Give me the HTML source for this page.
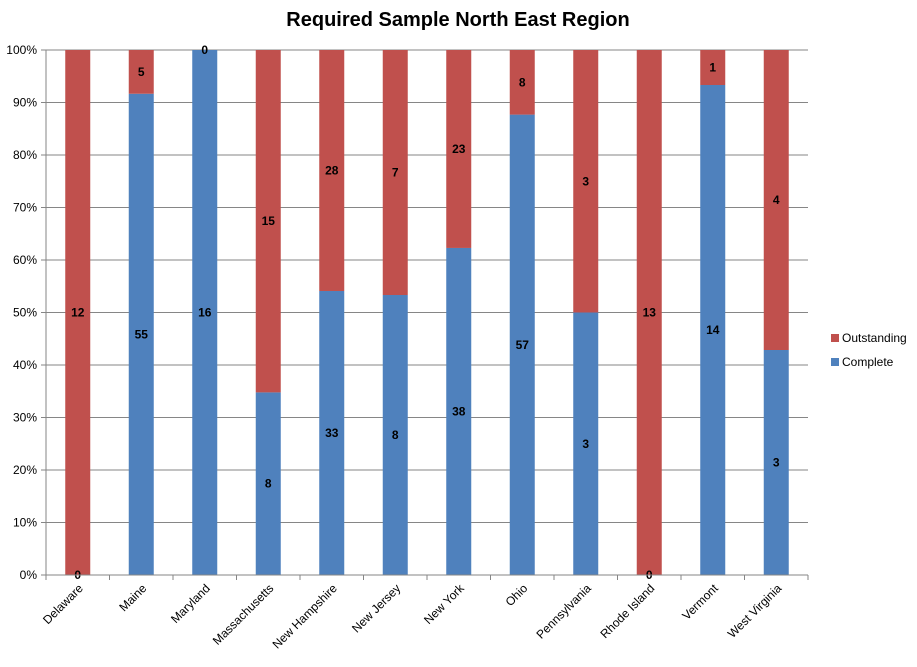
<!DOCTYPE html>
<html><head><meta charset="utf-8"><style>
body{margin:0;background:#fff;font-family:"Liberation Sans",sans-serif;}
</style></head><body>
<svg id="chart" width="917" height="662" xmlns="http://www.w3.org/2000/svg" font-family="Liberation Sans, sans-serif">
<text x="458" y="26" text-anchor="middle" font-size="20" font-weight="bold" fill="#000">Required Sample North East Region</text>
<g id="grid"></g><g id="bars"></g><g id="labels"></g><g id="axes"></g>
<g>
<rect x="831" y="334" width="8" height="8" fill="#C0504D"/>
<text x="842" y="342" font-size="12">Outstanding</text>
<rect x="831" y="358" width="8" height="8" fill="#4F81BD"/>
<text x="842" y="366" font-size="12">Complete</text>
</g>
</svg>
<script>
const categories=["Delaware","Maine","Maryland","Massachusetts","New Hampshire","New Jersey","New York","Ohio","Pennsylvania","Rhode Island","Vermont","West Virginia"];
const complete=[0,55,16,8,33,8,38,57,3,0,14,3];
const outstanding=[12,5,0,15,28,7,23,8,3,13,1,4];
const yTicks=[0,10,20,30,40,50,60,70,80,90,100];
const NS="http://www.w3.org/2000/svg";
const L=46,R=808,T=50,B=575,bw=25;
const step=(R-L)/categories.length;
const xc=i=>L+step*(i+0.5);
const y=p=>B-(B-T)*p/100;
function mk(tag,attrs,parent){const e=document.createElementNS(NS,tag);for(const k in attrs)e.setAttribute(k,attrs[k]);document.getElementById(parent).appendChild(e);return e;}
yTicks.forEach(t=>{
 const g=mk("line",{x1:L,x2:R,y1:y(t),y2:y(t),stroke:"#868686","stroke-width":1},"grid");
 
 
 const tk=mk("line",{x1:L-5,x2:L,y1:y(t),y2:y(t),stroke:"#868686"},"axes");
 
 
 const tx=mk("text",{x:L-9,y:y(t)+4,"text-anchor":"end","font-size":12},"axes");
 tx.textContent=t+"%";
 
 
});
categories.forEach((c,i)=>{
 const tot=complete[i]+outstanding[i];
 const pc=tot?complete[i]/tot*100:0;
 const b1=mk("rect",{x:xc(i)-bw/2,y:y(pc),width:bw,height:B-y(pc),fill:"#4F81BD"},"bars");
 
 
 const b2=mk("rect",{x:xc(i)-bw/2,y:T,width:bw,height:y(pc)-T,fill:"#C0504D"},"bars");
 
 
 const l1=mk("text",{x:xc(i),y:(y(pc)+B)/2+4,"text-anchor":"middle","font-size":12,"font-weight":"bold"},"labels");
 l1.textContent=complete[i];
 
 
 const l2=mk("text",{x:xc(i),y:(y(pc)+T)/2+4,"text-anchor":"middle","font-size":12,"font-weight":"bold"},"labels");
 l2.textContent=outstanding[i];
 
 
 const tk=mk("line",{x1:L+step*i,x2:L+step*i,y1:B,y2:B+5,stroke:"#868686"},"axes");
 
 
 const xl=mk("text",{x:xc(i)+6,y:B+14,"text-anchor":"end","font-size":12,transform:`rotate(-45 ${xc(i)+6} ${B+14})`},"axes");
 xl.textContent=c;
 
 
});
const lt=mk("line",{x1:R,x2:R,y1:B,y2:B+5,stroke:"#868686"},"axes");


const ya=mk("line",{x1:L,x2:L,y1:T,y2:B,stroke:"#868686"},"axes");


const xa=mk("line",{x1:L,x2:R,y1:B,y2:B,stroke:"#868686"},"axes");


</script>
</body></html>
